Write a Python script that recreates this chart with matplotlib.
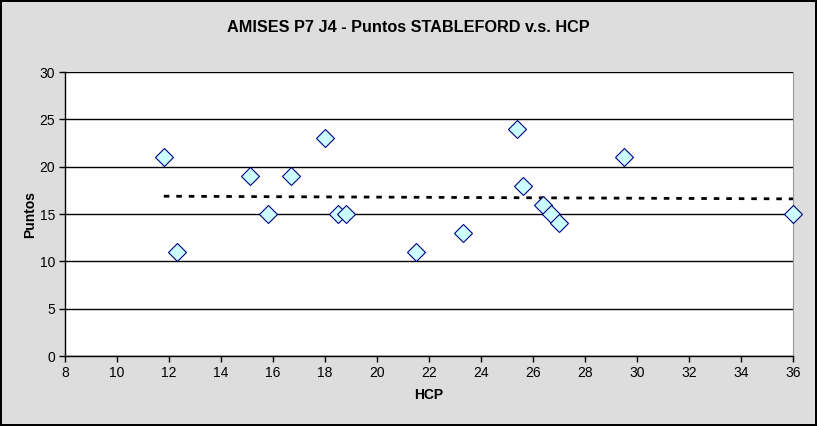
import numpy as np
import matplotlib
matplotlib.use("Agg")
import matplotlib.pyplot as plt

hcp = [11.8, 12.3, 15.1, 15.8, 16.7, 18.0, 18.5, 18.8, 21.5, 23.3, 25.4, 25.6, 26.4, 26.7, 27.0, 29.5, 36.0]
puntos = [21, 11, 19, 15, 19, 23, 15, 15, 11, 13, 24, 18, 16, 15, 14, 21, 15]
title = "AMISES P7 J4 - Puntos STABLEFORD v.s. HCP"
xlabel = "HCP"
ylabel = "Puntos"

plt.rcParams['font.family'] = ['Liberation Sans', 'DejaVu Sans']

fig = plt.figure(figsize=(8.17, 4.26), dpi=100)
fig.patch.set_facecolor('#DDDDDD')
fig.patch.set_edgecolor('black')
fig.patch.set_linewidth(1.5)

W, H = 817, 426
ax = fig.add_axes([65 / W, (H - 356) / H, (793 - 65) / W, (356 - 72) / H])
ax.set_facecolor('white')

ax.set_xlim(8, 36)
ax.set_ylim(0, 30)
ax.set_xticks(np.arange(8, 37, 2))
ax.set_yticks(np.arange(0, 31, 5))
ax.yaxis.grid(True, color='black', linewidth=1)
ax.set_axisbelow(True)

ax.spines['top'].set_visible(False)
ax.spines['right'].set_color('#999999')
ax.spines['left'].set_linewidth(1)
ax.spines['bottom'].set_linewidth(1)

ax.tick_params(axis='both', direction='out', length=4, width=1, labelsize=10, pad=3)

# trendline
coef = np.polyfit(hcp, puntos, 1)
xs = np.array([min(hcp), max(hcp)])
ax.plot(xs, np.polyval(coef, xs), color='black', linestyle=(0, (2, 2.5)), linewidth=2, zorder=2)

ax.plot(hcp, puntos, linestyle='none', marker='D', markersize=9,
        markerfacecolor='#CCFFFF', markeredgecolor='#000080', markeredgewidth=0.8,
        zorder=3, clip_on=False)

ax.set_xlabel(xlabel, fontsize=10, fontweight='bold', labelpad=6)
ax.set_ylabel(ylabel, fontsize=10, fontweight='bold', labelpad=2)
fig.text(0.5, 1 - 28 / H, title, ha='center', va='center', fontsize=11.7, fontweight='bold')

fig.savefig('out.png', dpi=100, facecolor=fig.get_facecolor(), edgecolor='black')
